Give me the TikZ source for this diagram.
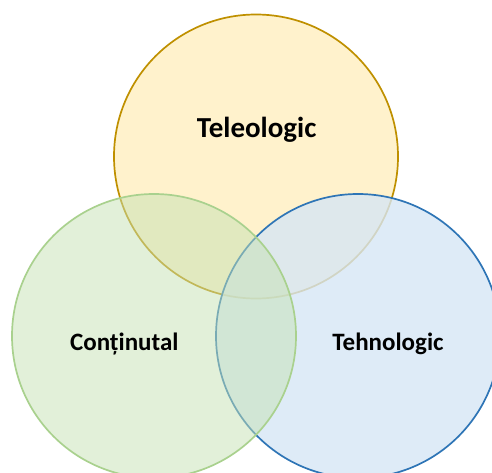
\documentclass[tikz,border=0pt]{standalone}
\usepackage{fontspec}
\setmainfont{Carlito}
\usetikzlibrary{positioning}
\definecolor{goldline}{HTML}{BF9000}
\definecolor{goldfill}{HTML}{FFF2CC}
\definecolor{greenline}{HTML}{A9D18E}
\definecolor{greenfill}{HTML}{C5E1B3}
\definecolor{blueline}{HTML}{2E75B6}
\definecolor{bluefill}{HTML}{D6E6F5}
\tikzset {
  x=1pt, y=1pt,
  % the three sets
  set/.style = {circle, minimum size=284pt, inner sep=0pt, line width=1.7pt},
  teleo/.style = {set, draw=goldline, fill=goldfill},
  conti/.style = {set, draw=greenline, fill=greenfill, fill opacity=0.5},
  tehno/.style = {set, draw=blueline, fill=bluefill, fill opacity=0.8},
  % set names
  setname/.style = {anchor=base, font=\bfseries\fontsize{25}{30}\selectfont, text=black},
  bigname/.style = {setname, font=\bfseries\fontsize{29}{34}\selectfont},
}
\begin{document}
\begin{tikzpicture}
  \useasboundingbox (0,0) rectangle (492,472);

  \node[teleo] (tel) at (256,315.5) {};
  \node[tehno] (teh) at (358,136) {};
  \node[conti] (con) at (154,136) {};

  \node[bigname] (teltext) at (256.7,334.3) {Teleologic};
  \node[setname] (context) at (124.3,121.3) {Conținutal};
  \node[setname] (tehtext) at (388,121.3) {Tehnologic};
\end{tikzpicture}
\end{document}
